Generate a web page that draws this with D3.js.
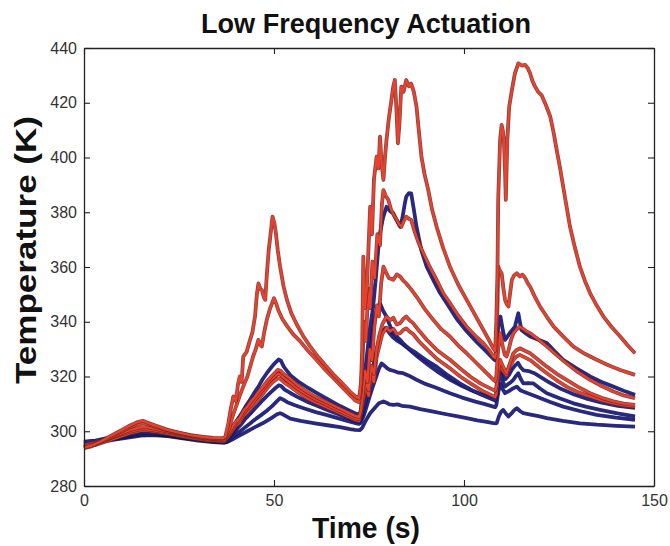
<!DOCTYPE html>
<html>
<head>
<meta charset="utf-8">
<script src="https://cdn.jsdelivr.net/npm/d3@7"></script>
<style>
  html, body { margin: 0; padding: 0; background: #ffffff; }
  svg { display: block; }
  text { font-family: "Liberation Sans", Arial, Helvetica, sans-serif; }
</style>
</head>
<body>
<svg id="chart" width="670" height="546"></svg>
<script>
// ---------------- DATA ----------------
const chartTitle = "Low Frequency Actuation";
const xLabel = "Time (s)";
const yLabel = "Temperature (K)";
const xTicks = [0, 50, 100, 150];
const yTicks = [280, 300, 320, 340, 360, 380, 400, 420, 440];

// red series: [time s, temperature K]
const seriesR1 = [[0,294],[2,294.8],[4,296],[6,297.5],[8,299],[10,300.5],[12,302],[14,303.3],[15.5,303.8],[17,303],[19,302],[22,300.5],[25,299.5],[28,298.6],[31,298],[34,297.6],[36.5,297.5],
 [37.2,298],[38,303],[38.6,308],[39.3,312.7],[40,311],[40.5,317],[41,320],[41.5,318],[41.9,327.3],[42.8,329],[43.7,333.4],[44.3,336],[45,341.9],[45.5,350],[45.9,354],[46.4,352],[46.8,351.6],[47.3,349],[47.7,348],[48.1,357],[48.6,366],[49.1,372],[49.6,378.4],[50.1,376],[50.5,372.3],[51,366],[51.6,360.2],[52.5,353],[53.4,348],[54.6,343],[56,339],[57.8,334.5],[59.5,331],[61.7,327],[63.9,323.5],[66,320.2],[68.3,317],[70,314.5],[71.3,312.8],[72.4,312],
 [72.9,318],[73.2,330],[73.5,363.8],[73.9,345],[74.4,351.6],[74.9,368],[75.3,382],[75.8,372],[76.3,392],[77,400.3],[77.5,396],[77.9,407.6],[78.3,398],[78.8,391.8],[79.2,400],[79.6,406.4],[80.2,414],[80.9,421],[81.4,426],[81.8,428.3],[82.2,418],[82.6,405.2],[83,412],[83.5,425.9],[84.1,424],[84.8,428.3],[85.5,426],[86.1,427],[86.8,424],[87.5,418.6],[88.1,410],[88.8,400.3],[89.6,394],[90.6,388.1],[91.6,381],[92.8,374.7],[94.5,367],[96.3,360.1],[98.5,353.5],[100.7,348],[102.9,342.5],[105.1,337],[106.5,333.5],[107.7,330.3],[108.2,329.3],
 [108.5,340],[108.8,357.7],[109,384.5],[109.5,406.4],[109.9,411.9],[110.2,410],[110.5,406.4],[110.8,395],[111,384.5],[111.2,395],[111.4,406.4],[111.9,418.6],[112.6,424.6],[113.4,430.7],[114.3,434.4],[115.2,433.6],[116.1,433.8],[116.8,432.6],[117.4,430.7],[118,428],[118.7,425.9],[119.5,424],[120.4,422.8],[121.6,419],[122.7,414.9],[123.6,409],[124.4,402.7],[125.3,396],[126.1,389.3],[127,382],[127.9,374.7],[129.2,367],[130.5,360.1],[131.8,355],[133.2,350.4],[134.9,346],[136.7,341.9],[138.9,338],[141.1,334.6],[143,331.5],[145,328.5]];

const seriesR2 = [[0,293.8],[2,294.5],[4,295.8],[6,297.2],[8,298.6],[10,300],[12,301.4],[14,302.6],[15.5,303],[17,302.5],[19,301.6],[22,300.3],[25,299.3],[28,298.5],[31,297.8],[34,297.3],[36.5,297.2],
 [37.2,297.8],[38.2,301],[39,305],[40,309],[41,313],[41.9,316.3],[43,320],[44.5,327.3],[45.2,330],[45.9,333.4],[46.4,331.5],[46.8,331],[47.4,336],[48.1,340.7],[49,345],[50,348.6],[50.6,346.5],[51.2,344],[52.2,341],[53.4,338.5],[55,335.5],[56.8,333],[59,329.3],[61.2,326],[63.4,322.6],[65.6,319.5],[68,316],[70,313.2],[71.3,311.3],[72.4,310.6],
 [72.9,315],[73.3,326],[73.7,340],[74.2,333],[74.8,352],[75.3,345],[75.9,362],[76.5,356],[77.2,372],[77.9,368],[78.4,383],[78.8,388.1],[79.4,386],[80.1,384.5],[80.8,381],[81.5,379],[82.3,377.2],[83,375.5],[83.5,374.7],[84.2,377],[84.8,378.4],[85.5,377.6],[86.1,377.2],[87,373],[88,369],[89.3,365],[91,360],[92.8,355.3],[94.5,350.5],[96.3,346.8],[98.5,342.2],[100.7,338.2],[103,334.8],[105.1,332.2],[106.5,329.8],[107.7,327.3],[108.2,326.8],
 [108.5,330],[108.8,345],[109,360.2],[109.5,358.5],[109.9,357.7],[110.4,352],[110.8,348],[111.2,346.5],[111.7,345.6],[112.1,350],[112.6,355.3],[113.2,357],[113.9,357.7],[114.7,356.5],[115.4,357.2],[116.1,355.9],[116.8,354],[117.4,352.8],[118.7,349],[120,345.6],[121.8,341.8],[123.6,338.2],[126.2,334.5],[128.8,330.9],[131.8,328.3],[134.9,326.1],[138,324.1],[141.1,322.4],[143,321.5],[145,320.6]];

const seriesR3 = [[0,294.5],[3,295.5],[6,297],[9,298.8],[12,300.4],[15,301.5],[17,301.4],[20,300.5],[24,299.3],[28,298.3],[32,297.4],[36.5,296.9],
 [37,297],[38,299],[39,301.5],[40,303.5],[41,305],[42,307.5],[43,309],[44,311],[45,312.5],[46,314.5],[47,316],[48,318],[49,319.5],[50,321],[51,322.4],[51.6,322.2],[52.5,321],[54,319.5],[56,317],[58.5,314.5],[61,312.5],[64,310.5],[67,308.5],[69.5,306.8],[71.3,305.6],[72.4,305.2],
 [72.9,308],[73.4,314],[74,322],[74.6,318],[75.2,330],[75.8,326],[76.4,338],[77.1,346],[77.6,342],[78.2,354],[78.8,360.1],[79.5,358],[80.2,356],[81.4,355.3],[82.3,357.3],[83.2,356.5],[84,355],[84.8,354],[86,352],[87.5,349.2],[89.5,345],[91.9,340.7],[94,337.3],[96.3,334.6],[98.5,331.3],[100.7,328.5],[103,325.3],[105.1,322.4],[106.5,320.5],[107.7,318.8],[108.2,318.3],
 [108.5,320],[109,330],[109.5,335.8],[110.2,331],[110.7,328],[111.2,327.3],[111.8,330],[112.4,333.5],[113,335.8],[113.8,337.2],[114.7,338.2],[115.5,337.4],[116.4,336.5],[117.4,335.8],[119.6,333.5],[121.8,331],[124.4,327.8],[127,324.8],[130,321.6],[133.2,318.8],[136.2,316.5],[139.3,314.5],[142,313.1],[145,312.1]];

const seriesR4 = [[0,295],[3,295.8],[6,297],[9,298.5],[12,299.8],[15,300.8],[17,300.6],[20,300],[24,299],[28,298],[32,297.1],[36.5,296.6],
 [37,296.7],[38,298.5],[39,300.5],[40,302.8],[41,304],[42,306.5],[43,308.2],[44,309.5],[45,311.5],[46,313],[47,315],[48,316.8],[49,318.5],[50,319.8],[51,321],[51.6,320.8],[52.5,319.6],[54,318],[56,315.8],[58.5,313.5],[61,311.5],[64,309.6],[67,307.6],[69.5,306],[71.3,304.8],[72.4,304.4],
 [72.9,307],[73.5,312],[74.2,318],[74.9,315],[75.6,324],[76.3,321],[77,330],[77.7,335],[78.5,339],[79.6,341.9],[80.5,340.5],[81.4,341.5],[82.3,339],[83.2,339.5],[84,341],[84.8,341.9],[85.7,340.5],[86.6,339.5],[88.3,336.5],[90.2,333.4],[93,329.5],[96.3,326.1],[99,322.9],[101.6,320],[104.5,317.3],[107.7,315.1],[108.2,314.8],
 [108.5,316],[109,322],[109.5,326.1],[110.3,323.5],[111.2,321.2],[112,324.5],[113,328.5],[113.8,329.6],[114.7,330.3],[116,329.4],[117.4,328.5],[119.6,326],[121.8,323.6],[124.4,321],[127,318.8],[130,316.2],[133.2,313.9],[136.2,312.2],[139.3,310.9],[142,310.1],[145,309.6]];

const seriesR5 = [[0,294.2],[3,295],[6,296.4],[9,297.8],[12,299.2],[15,300.2],[17,300.2],[20,299.6],[24,298.6],[28,297.6],[32,296.8],[36.5,296.3],
 [37,296.4],[38,298],[39,300],[40,302],[41,303.2],[42,305.5],[43,307],[44,308.5],[45,310.3],[46,311.8],[47,313.5],[48,315.3],[49,317],[50,318.3],[51,319.4],[51.6,319.2],[52.5,318],[54,316.6],[56,314.5],[58.5,312.3],[61,310.5],[64,308.7],[67,306.9],[69.5,305.3],[71.3,304.2],[72.4,303.8],
 [72.9,306.5],[73.5,311],[74.2,316],[74.9,313],[75.6,321],[76.3,318],[77,327],[77.7,331],[78.5,335.5],[79.6,337.8],[80.5,336.5],[81.4,337.4],[82.3,335.5],[83.2,335.8],[84,337],[84.8,337.6],[85.7,336.4],[86.6,335.5],[88.3,332.6],[90.2,330],[93,326.3],[96.3,323],[99,320],[101.6,317.6],[104.5,315],[107.7,312.8],[108.2,312.5],
 [108.5,313.5],[109,320],[109.5,324.2],[110.3,322],[111.2,320.4],[112,323.5],[113,326],[113.8,327.3],[114.7,327.9],[116,327],[117.4,326],[119.6,323.6],[121.8,321.2],[124.4,318.6],[127,316.3],[130,314.3],[133.2,312.7],[136.2,311.3],[139.3,310.2],[142,309.5],[145,309]];

// blue series
const seriesB1 = [[0,296.2],[3,296.6],[6,297.5],[9,298.6],[12,299.6],[15,300.3],[18,300.2],[22,299.4],[26,298.5],[30,297.7],[34,297.1],[37,297],
 [37.3,297.2],[38.5,299.5],[39.3,301.7],[40.5,304.5],[41.5,306.5],[42.5,309],[43.7,311.5],[44.8,314],[46,316.5],[47,319],[48.1,321.2],[49.2,323.2],[50.3,325],[51.2,326.2],[51.8,325.8],[52.6,323.5],[54.3,320.5],[56.5,318],[59,315.8],[61.2,314],[64,311.8],[67.4,309.2],[69.5,307.8],[71.3,306.6],[72.4,306.1],
 [72.8,307],[73.5,315],[74.3,326],[75.3,338],[76.1,345.6],[76.8,356],[77.4,366],[77.9,372.3],[78.7,378],[79.6,382],[80.5,380.5],[81.4,379.6],[82.3,377],[83.2,374.7],[83.8,378],[84.4,383],[84.8,385.7],[85.5,387],[86.1,386.9],[86.8,381],[87.5,374.7],[88.8,366],[90.2,360],[92,355],[93.7,350.5],[95.8,346],[98.1,341],[100.7,336.5],[103.3,332.6],[105.5,329.6],[107.7,326.5],[108.2,325.9],
 [108.5,327.5],[109,338.2],[109.6,341.9],[110.2,337],[110.8,333.4],[111.4,334.5],[112,335.8],[112.7,337],[113.4,338.2],[113.9,341],[114.3,343.1],[114.7,340],[115.1,337],[116.2,335.8],[117.4,334.6],[119.6,333.4],[121.8,332.2],[124,329],[126.1,326.1],[129.6,323],[133.2,320],[136.2,318],[139.3,316.3],[142,314.8],[145,313.3]];

const seriesB2 = [[0,296],[4,296.6],[8,297.8],[12,299],[15,299.6],[18,299.5],[22,298.9],[26,298.1],[30,297.4],[34,296.8],[37,296.6],
 [37.3,296.8],[38.5,298.6],[39.5,300.5],[40.5,302.5],[41.5,304.3],[42.5,306.5],[43.7,308.5],[45,311],[46,313],[47,315],[48.1,317],[49.2,318.8],[50.3,320.3],[51.3,321.2],[51.9,320.8],[52.8,319],[54.5,317.3],[56.5,315.5],[59,313.5],[61.5,311.8],[64,310.2],[67,308.2],[69.5,306.3],[71.3,305],[72.4,304.5],
 [72.8,305],[73.5,310],[74.3,318],[75.1,328],[75.8,336],[76.6,342],[77.3,345],[77.9,346.8],[78.7,344],[79.6,341.9],[80.5,338.6],[81.4,335.8],[82.3,334.6],[83.2,333.4],[84,332.1],[84.8,331],[86,329.8],[87.5,328.5],[90,326],[92.8,323.6],[95.8,320.4],[98.9,317.5],[101.8,315.2],[104.8,313.2],[107.7,311.5],[108.2,311.2],
 [108.5,313],[109,318],[109.5,321.2],[110.1,318.5],[110.8,316.3],[111.6,317.2],[112.4,318],[113,318.8],[113.7,320.2],[114.3,321.2],[114.9,319.2],[115.6,317.5],[116.9,317.6],[118.2,317.5],[120,315.6],[121.8,313.9],[125.3,312],[128.8,310.2],[132.3,308.9],[135.8,307.8],[140.4,306.5],[145,305.4]];

const seriesB3 = [[0,295.8],[4,296.4],[8,297.5],[12,298.6],[15,299.2],[18,299.2],[22,298.6],[26,297.8],[30,297.1],[34,296.5],[37,296.3],
 [37.3,296.5],[38.5,298],[39.5,299.6],[40.5,301.3],[41.5,302.8],[42.5,304.6],[43.7,306.3],[45,308.3],[46,309.8],[47,311.3],[48.1,312.8],[49.2,314.3],[50.3,315.7],[51.3,316.8],[51.9,316.5],[52.8,315.2],[54.5,313.8],[56.5,312.3],[59,310.6],[61.5,309.2],[64,307.8],[67,306.2],[69.5,304.8],[71.3,303.8],[72.4,303.4],
 [72.8,304],[73.6,308],[74.5,313],[75.4,319],[76.3,325],[77.1,330],[77.9,334],[78.6,336.5],[79.4,337.8],[80.3,336],[81.3,334.3],[82.5,333],[83.7,332],[84.8,330.8],[86.3,329],[88,327],[90.5,324.3],[93.5,321.3],[96.5,318.7],[99.5,316.5],[102.5,314.6],[105.2,313.2],[107.7,312],[108.2,311.8],
 [108.5,313],[109,319],[109.5,323],[110.2,320.5],[110.9,319],[111.8,320.5],[112.6,322.5],[113.4,324],[114.2,325],[114.9,323.4],[115.7,322.2],[117,322],[118.5,321.2],[120.5,319.5],[122.5,317.8],[125.5,315.5],[129,313.4],[132.5,311.8],[136,310.5],[140.5,309.3],[145,308.5]];

const seriesB4 = [[0,295.6],[4,296.2],[8,297.2],[12,298.2],[15,298.8],[18,298.9],[22,298.4],[26,297.6],[30,296.9],[34,296.2],[37,296],
 [37.5,296.1],[39,297.8],[40.5,299.4],[42,301],[43.7,302.8],[45,304.3],[46.5,305.8],[48.1,307.5],[49.5,309.2],[50.8,311],[51.6,312.1],[52.2,311.7],[53.5,310.6],[55.5,309.5],[58,308.3],[61,307],[64,305.9],[67,304.7],[69.5,303.7],[71.3,303],[72.4,302.7],
 [72.8,303],[73.7,306],[74.8,311],[75.8,315.5],[76.8,319.5],[77.6,322.8],[78.3,324.8],[79,324],[79.8,323],[80.5,322.4],[81.6,322],[82.8,321.4],[84,321.2],[85.5,320.3],[87.5,318.8],[90,317.2],[92.5,316],[96.3,313.9],[99.5,312.3],[103,310.8],[105.5,309.9],[107.7,309],[108.2,308.8],
 [108.5,309.5],[109,314],[109.5,317.5],[110.1,315.5],[110.8,313.9],[111.7,314.6],[112.7,315.5],[113.9,316.3],[114.8,315],[115.6,314.5],[117.3,313.6],[119,312.7],[122.5,310.8],[126.1,309],[130.5,307.4],[134.9,306],[140,305],[145,304.2]];

const seriesB5 = [[0,295.4],[4,296],[8,296.9],[12,297.8],[15,298.4],[18,298.6],[22,298.2],[26,297.4],[30,296.6],[34,296],[37,295.8],
 [37.5,296],[39.3,297.2],[41,298.5],[43,300],[45,301.5],[47,302.9],[48.1,303.8],[49.5,305],[50.8,306.2],[51.6,306.6],[52.3,306.2],[54.3,304.6],[57,303.8],[61.2,302.8],[64.5,302.1],[67.4,301.5],[70,300.8],[71.3,300.5],[72.6,300.4],
 [73.2,301.2],[74,303.5],[75.3,306.6],[76.5,308.5],[77.6,310.2],[78.8,310.9],[79.6,310.4],[80.4,309.8],[81.4,309.6],[82.5,309.8],[83.6,309.3],[85.8,309],[88.5,308.1],[91.9,307.2],[95,306.3],[98,305.5],[100.7,304.8],[103.5,304],[106,303.4],[107.7,303],[108.5,302.9],
 [108.6,303],[109.2,305.5],[109.7,307],[110.3,307.8],[111,306.5],[111.7,305.4],[112.5,306.5],[113.2,307.7],[113.9,308.4],[114.8,307.3],[115.6,306.6],[117.5,306.1],[119.6,305.5],[121.8,304.8],[126,303.8],[130.5,302.9],[135,302.4],[140,302],[145,301.7]];

const blueSeries = [seriesB5, seriesB4, seriesB3, seriesB2, seriesB1];
const redSeries = [seriesR5, seriesR4, seriesR3, seriesR2, seriesR1];

// ---------------- CHART ----------------
const svg = d3.select("#chart");
const W = 670, H = 546;
const m = {left: 84, right: 16, top: 48, bottom: 60};

svg.append("rect").attr("width", W).attr("height", H).attr("fill", "#fff");

const x = d3.scaleLinear().domain([0, 150]).range([m.left, W - m.right]);
const y = d3.scaleLinear().domain([280, 440]).range([H - m.bottom, m.top]);

const line = d3.line().x(d => x(d[0])).y(d => y(d[1]));

const g = svg.append("g");

function drawSeries(data, edge, fill) {
  g.append("path").attr("d", line(data)).attr("fill", "none")
    .attr("stroke", edge).attr("stroke-width", 3.8).attr("stroke-linejoin", "round").attr("stroke-opacity", 0.85);
  g.append("path").attr("d", line(data)).attr("fill", "none")
    .attr("stroke", fill).attr("stroke-width", 2.4).attr("stroke-linejoin", "round");
}
blueSeries.forEach(s => drawSeries(s, "#10103a", "#262690"));
redSeries.forEach(s => drawSeries(s, "#6a2620", "#e8412e"));

// axes
const axisColor = "#222";
const tickFont = 16;
const xAxis = svg.append("g").attr("transform", `translate(0,${y(280)})`)
  .call(d3.axisBottom(x).tickValues(xTicks).tickSizeInner(-6).tickSizeOuter(0).tickPadding(9));
const yAxis = svg.append("g").attr("transform", `translate(${x(0)},0)`)
  .call(d3.axisLeft(y).tickValues(yTicks).tickSizeInner(-6).tickSizeOuter(0).tickPadding(7));
const xTop = svg.append("g").attr("transform", `translate(0,${y(440)})`)
  .call(d3.axisTop(x).tickValues(xTicks).tickSizeInner(-6).tickSizeOuter(0).tickFormat(""));
const yRight = svg.append("g").attr("transform", `translate(${x(150)},0)`)
  .call(d3.axisRight(y).tickValues(yTicks).tickSizeInner(-6).tickSizeOuter(0).tickFormat(""));

[xAxis, yAxis, xTop, yRight].forEach(a => {
  a.select(".domain").attr("stroke", axisColor).attr("stroke-width", 1.3);
  a.selectAll(".tick line").attr("stroke", axisColor).attr("stroke-width", 1.1);
  a.selectAll(".tick text").attr("fill", "#333").attr("font-size", tickFont)
    .attr("font-family", "'Liberation Sans', Arial, sans-serif");
});

// title and labels
svg.append("text").attr("x", 366).attr("y", 33).attr("text-anchor", "middle")
  .attr("font-size", 27).attr("font-weight", "bold").attr("fill", "#111")
  .attr("textLength", 330).attr("lengthAdjust", "spacingAndGlyphs").text(chartTitle);
svg.append("text").attr("x", 366).attr("y", 538).attr("text-anchor", "middle")
  .attr("font-size", 29).attr("font-weight", "bold").attr("fill", "#111")
  .attr("textLength", 108).attr("lengthAdjust", "spacingAndGlyphs").text(xLabel);
svg.append("text").attr("transform", `translate(36,250) rotate(-90)`).attr("text-anchor", "middle")
  .attr("font-size", 30).attr("font-weight", "bold").attr("fill", "#111")
  .attr("textLength", 268).attr("lengthAdjust", "spacingAndGlyphs").text(yLabel);
</script>
</body>
</html>
